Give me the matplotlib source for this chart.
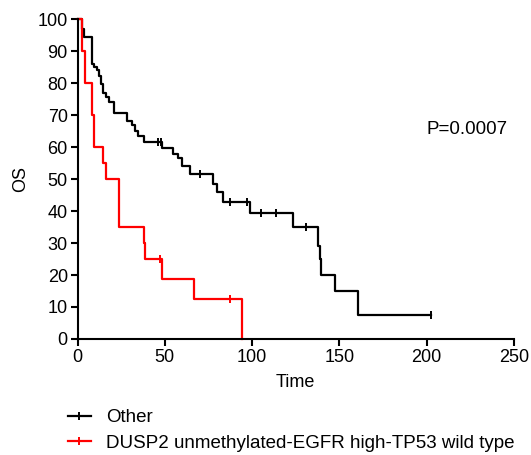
import matplotlib.pyplot as plt
from matplotlib.lines import Line2D

plt.rcParams["font.family"] = ["Liberation Sans", "DejaVu Sans"]

# Curva "Other" (tiempo del evento, supervivencia despues del evento)
other_t = [0, 2.6, 3.9, 8.3, 9.6, 11, 12.2, 13.5, 14.6, 16.3, 18, 21,
           28.6, 31.1, 33, 34.9, 37.8, 48.2, 54.9, 57.8, 59.7, 64.5,
           77.7, 80, 83.4, 98.9, 123.5, 137.8, 139, 139.5, 147.6, 160.7, 202.6]
other_s = [100, 97, 94.3, 86, 85, 84, 82.3, 79.7, 77, 75.6, 74, 70.5,
           68.2, 66.9, 65.1, 63.5, 61.5, 59.6, 57.8, 56.5, 54.2, 51.6,
           48.4, 45.9, 42.8, 39.3, 35, 29, 25, 20, 15, 7.5, 7.5]
other_cens_t = [46, 47.7, 70.2, 87.4, 97, 105.2, 113.8, 131, 202.6]

# Curva DUSP2 unmethylated-EGFR high-TP53 wild type
dusp_t = [0, 2.6, 4.3, 8.3, 9.5, 14.6, 16.3, 23.8, 38.1, 38.7, 48.6, 66.8, 94.3]
dusp_s = [100, 90, 80, 70, 60, 55, 50, 35, 30, 25, 18.75, 12.5, 0]
dusp_cens_t = [47.3, 87.4]

p_text = "P=0.0007"


def surv_at(t_list, s_list, t):
    val = s_list[0]
    for ti, si in zip(t_list, s_list):
        if ti <= t:
            val = si
    return val


fig = plt.figure(figsize=(5.31, 4.55), dpi=100)
ax = fig.add_axes([0.146, 0.255, 0.822, 0.703])

ax.step(other_t, other_s, where="post", color="black", lw=1.6)
ax.plot(other_cens_t, [surv_at(other_t, other_s, t) for t in other_cens_t],
        ls="none", marker="|", ms=6, mew=1.4, color="black")
ax.step(dusp_t, dusp_s, where="post", color="#ff0000", lw=1.6)
ax.plot(dusp_cens_t, [surv_at(dusp_t, dusp_s, t) for t in dusp_cens_t],
        ls="none", marker="|", ms=6, mew=1.4, color="#ff0000")

ax.text(200, 65.6, p_text, fontsize=13.5, va="center", ha="left")

ax.set_xlim(0, 250)
ax.set_ylim(0, 100)
ax.set_xticks(range(0, 251, 50))
ax.set_yticks(range(0, 101, 10))
ax.set_xlabel("Time", fontsize=13, labelpad=6)
ax.set_ylabel("OS", fontsize=13, labelpad=6)
ax.tick_params(labelsize=13, width=1.5, length=5, direction="out", pad=2)
for side in ["top", "right"]:
    ax.spines[side].set_visible(False)
for side in ["left", "bottom"]:
    ax.spines[side].set_linewidth(1.5)
ax.spines["left"].set_bounds(0, 100)
ax.spines["bottom"].set_bounds(0, 250)
ax.margins(0)
for ln in ax.get_lines():
    ln.set_clip_on(False)

handles = [
    Line2D([], [], color="black", lw=1.6, marker="|", ms=6, mew=1.4),
    Line2D([], [], color="#ff0000", lw=1.6, marker="|", ms=6, mew=1.4),
]
labels = ["Other", "DUSP2 unmethylated-EGFR high-TP53 wild type"]
fig.legend(handles, labels, loc="upper left", bbox_to_anchor=(0.114, 0.117),
           frameon=False, fontsize=13.5, handlelength=1.2, handletextpad=0.85,
           labelspacing=0.45, borderaxespad=0)

fig.savefig("out.png", dpi=100)
